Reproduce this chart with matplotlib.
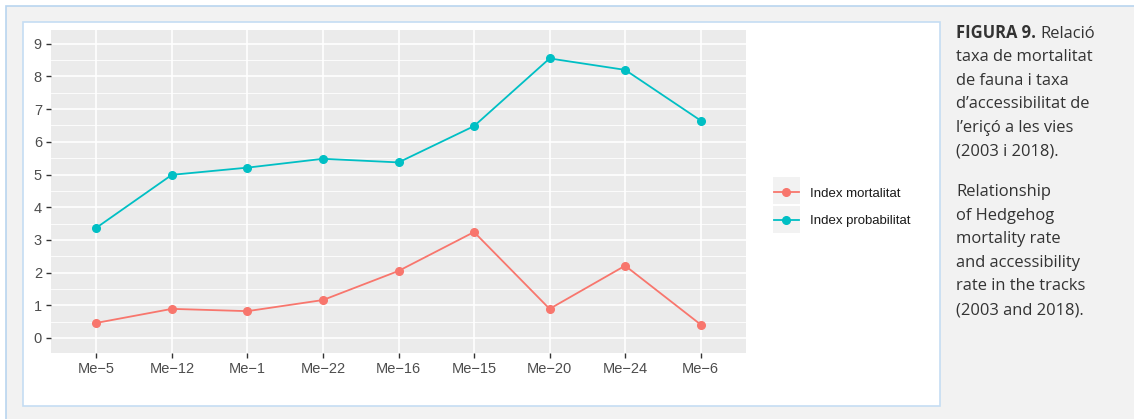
import numpy as np
import matplotlib
matplotlib.use("Agg")
import matplotlib.pyplot as plt
from matplotlib.patches import Rectangle
from matplotlib.lines import Line2D

# data
sites = ["Me\u22125", "Me\u221212", "Me\u22121", "Me\u221222", "Me\u221216",
         "Me\u221215", "Me\u221220", "Me\u221224", "Me\u22126"]
mortalitat = [0.46, 0.89, 0.82, 1.16, 2.05, 3.24, 0.89, 2.21, 0.41]
probabilitat = [3.37, 4.99, 5.21, 5.48, 5.37, 6.48, 8.55, 8.20, 6.65]
series_names = ["Index mortalitat", "Index probabilitat"]
series_cols = ["#F8766D", "#00BFC4"]

W, H = 1134, 419
fig = plt.figure(figsize=(W / 100, H / 100), dpi=100)
fig.patch.set_facecolor("white")

def px(x, y):
    return x / W, 1 - y / H

# outer grey card and inner white box
x0, y0 = px(6, 6)
fig.patches.append(Rectangle((x0, -0.05), 1.2, y0 + 0.05, transform=fig.transFigure,
                             facecolor="#f2f2f2", edgecolor="#b9d5ef", lw=1.2, zorder=0))
x0, y0 = px(22.5, 405.5)
x1, y1 = px(940, 22)
fig.patches.append(Rectangle((x0, y0), x1 - x0, y1 - y0, transform=fig.transFigure,
                             facecolor="white", edgecolor="#c5ddf3", lw=1.2, zorder=1))

fnt = ["Liberation Sans", "DejaVu Sans"]
l, b = px(51, 353)
r, t = px(746, 30)
ax = fig.add_axes([l, b, r - l, t - b], zorder=2)
ax.set_facecolor("#ebebeb")
xs = np.arange(len(sites))
for vals, name, col in zip([mortalitat, probabilitat], series_names, series_cols):
    ax.plot(xs, vals, color=col, lw=1.3, marker="o", ms=5.5, label=name, zorder=3)

ax.set_xlim(-0.6, len(sites) - 0.4)
ax.set_ylim(-0.46, 9.42)
ax.set_xticks(xs)
ax.set_xticklabels(sites, family=fnt, fontsize=10.5, color="#4d4d4d")
ax.set_yticks(range(0, 10))
ax.set_yticklabels([str(i) for i in range(0, 10)], family=fnt, fontsize=10.5, color="#4d4d4d")
ax.set_yticks(np.arange(0.5, 9.5, 1), minor=True)
ax.grid(which="major", color="white", lw=1.2)
ax.grid(which="minor", axis="y", color="white", lw=0.6)
ax.set_axisbelow(True)
ax.tick_params(which="major", length=3.5, width=1.0, color="#333333", pad=3)
ax.tick_params(which="minor", length=0)
for s in ax.spines.values():
    s.set_visible(False)

# legend key backgrounds (ggplot-style grey squares)
for ky in (177.5, 206.5):
    kx0, ky0 = px(773, ky + 27)
    fig.patches.append(Rectangle((kx0, ky0), 27 / W, 27 / H, transform=fig.transFigure,
                                 facecolor="#f2f2f2", edgecolor="none", zorder=2))

handles = [Line2D([], [], color=c, lw=1.3, marker="o", ms=5.5) for c in series_cols]
leg = fig.legend(handles, series_names, loc="upper left", bbox_to_anchor=px(762, 176),
                 frameon=False, prop={"family": fnt, "size": 9.5}, handlelength=1.9,
                 labelspacing=1.12, handletextpad=0.8)
leg.set_zorder(3)
for txt in leg.get_texts():
    txt.set_color("#1a1a1a")

# caption
cap = ["taxa de mortalitat", "de fauna i taxa", "d\u2019accessibilitat de",
       "l\u2019eri\u00e7\u00f3 a les vies", "(2003 i 2018)."]
cap2 = ["Relationship", "of Hedgehog", "mortality rate", "and accessibility",
        "rate in the tracks", "(2003 and 2018)."]
cfnt = ["Open Sans", "DejaVu Sans"]
fs = 11.9
lh = 23.6
cx = 956
y = 37.7
t1 = fig.text(*px(cx, y), "FIGURA 9.", family=cfnt, weight="bold", fontsize=fs,
              color="#333333", va="baseline")
fig.canvas.draw()
bb = t1.get_window_extent()
fig.text(bb.x1 / W + 4 / W, 1 - y / H, "Relaci\u00f3", family=cfnt, fontsize=fs,
         color="#333333", va="baseline")
for line in cap:
    y += lh
    fig.text(*px(cx, y), line, family=cfnt, fontsize=fs, color="#333333", va="baseline")
y = 196
for line in cap2:
    fig.text(*px(cx, y), line, family=cfnt, fontsize=fs, color="#333333", va="baseline")
    y += lh

fig.savefig("out.png", dpi=100, facecolor=fig.get_facecolor())
